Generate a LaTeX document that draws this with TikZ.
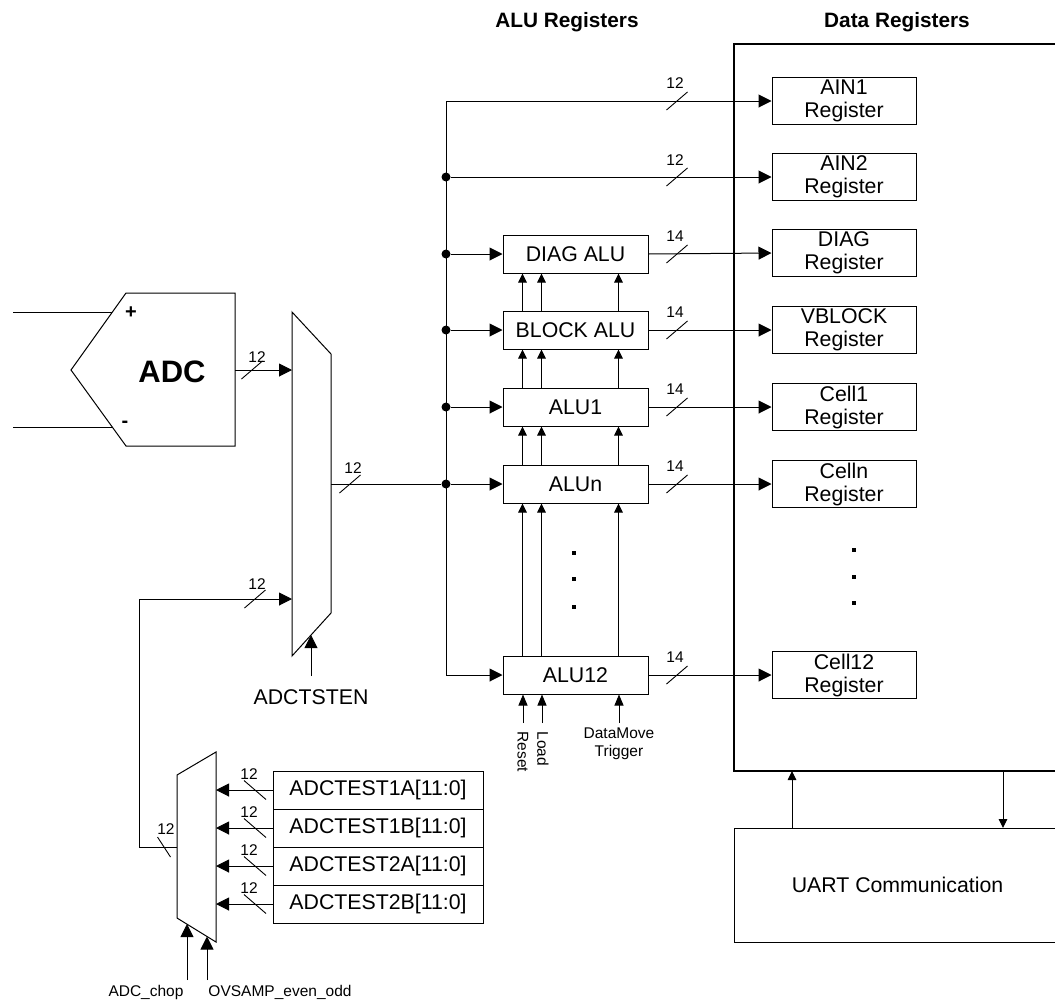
\documentclass[tikz,border=0pt]{standalone}
\usepackage{fontspec}
\setmainfont{Liberation Sans}
\usetikzlibrary{arrows.meta}
\begin{document}
\begin{tikzpicture}[x=1pt,y=-1pt,line width=1pt,
  big/.style={font=\fontsize{21.3}{23}\selectfont},
  small/.style={font=\fontsize{15.5}{18}\selectfont},
  box/.style={draw, rectangle, inner sep=0pt, big, align=center},
  alubox/.style={box, minimum width=145pt, minimum height=38pt},
  regbox/.style={box, minimum width=144pt, minimum height=47pt},
  testbox/.style={box, minimum width=210pt, minimum height=38pt},
  arr/.style={-{Triangle[length=13pt,width=13pt]}},
  marr/.style={-{Triangle[length=11pt,width=9pt]}},
  sarr/.style={-{Triangle[length=9pt,width=8.5pt]}},
  jdot/.style={circle, fill, inner sep=0pt, minimum size=9pt},
  sqdot/.style={rectangle, fill, inner sep=0pt, minimum size=4.5pt},
  bw/.style={small, inner sep=0pt},
  slashmark/.pic={\draw[line width=0.9pt] (-10.5,9) -- (10.5,-9);},
  bslashmark/.pic={\draw[line width=0.9pt] (-11,-9.5) -- (11,9.5);},
  steepmark/.pic={\draw[line width=0.9pt] (-6.5,-10) -- (6.5,10);},
]
\clip (0,0) rectangle (1055,1002);
\useasboundingbox (0,0) rectangle (1055,1002);

% titles
\node[font=\fontsize{20.8}{23}\selectfont\bfseries] (t1) at (567,22) {ALU Registers};
\node[font=\fontsize{20.8}{23}\selectfont\bfseries] (t2) at (897,22) {Data Registers};

% Data registers frame
\draw[line width=1.9pt] (1065,44) -- (734,44) -- (734,771) -- (1065,771);

% ADC
\draw (71,370) -- (126,293) -- (235,293) -- (235,446) -- (126,446) -- cycle;
\coordinate (adcout) at (235,370);
\coordinate (inp) at (13,312);
\coordinate (inpe) at (112.4,312);
\coordinate (inm) at (13,427);
\coordinate (inme) at (112,427);
\draw (inp) -- (inpe);
\draw (inm) -- (inme);
\node[font=\fontsize{31}{34}\selectfont\bfseries] (adc) at (172,372) {ADC};
\node[font=\fontsize{20}{22}\selectfont\bfseries, inner sep=0pt] (plus) at (131,313) {+};
\node[font=\fontsize{20}{22}\selectfont\bfseries, inner sep=0pt] (minus) at (125,424) {-};

% main mux
\draw (292,312) -- (331,354) -- (331,613) -- (292,656) -- cycle;
\coordinate (muxin1) at (292,370);
\coordinate (muxin2) at (292,599);
\coordinate (muxout) at (331,484);
\coordinate (muxsel) at (311,635);
\coordinate (selsrc) at (311,676);
\draw[arr] (adcout) -- (muxin1);
\pic at (252,370) {slashmark};
\node[bw] (l1) at (257,357) {12};
\draw[arr] (selsrc) -- (muxsel);
\node[big] (adctsten) at (311,697) {ADCTSTEN};

% bus
\coordinate (btop) at (446,101);
\coordinate (bbot) at (446,675);
\draw (btop) -- (bbot);
\node[jdot] (j2) at (446,177) {};
\node[jdot] (j3) at (446,254) {};
\node[jdot] (j4) at (446,330) {};
\node[jdot] (j5) at (446,407) {};
\node[jdot] (j6) at (446,484) {};
\draw (muxout) -- (j6);
\pic at (350,484) {slashmark};
\node[bw] (l2) at (353,468) {12};

% ALU boxes
\node[alubox] (diag) at (575.5,254) {DIAG ALU};
\node[alubox] (blk)  at (575.5,330) {BLOCK ALU};
\node[alubox] (alu1) at (575.5,407) {ALU1};
\node[alubox] (alun) at (575.5,484) {ALUn};
\node[alubox] (alu12) at (575.5,675) {ALU12};

% registers
\node[regbox] (ain1) at (844,101) {AIN1\\Register};
\node[regbox] (ain2) at (844,177) {AIN2\\Register};
\node[regbox] (diagr) at (844,253) {DIAG\\Register};
\node[regbox] (vblk) at (844,330) {VBLOCK\\Register};
\node[regbox] (cell1) at (844,407) {Cell1\\Register};
\node[regbox] (celln) at (844,484) {Celln\\Register};
\node[regbox] (cell12) at (844,675) {Cell12\\Register};

% bus to registers / ALUs
\draw[arr] (btop) -- (ain1.west);
\draw[arr] (j2) -- (ain2.west);
\draw[arr] (j3) -- (diag.west);
\draw[arr] (j4) -- (blk.west);
\draw[arr] (j5) -- (alu1.west);
\draw[arr] (j6) -- (alun.west);
\draw[arr] (bbot) -- (alu12.west);

% ALU outputs
\draw[arr] (diag.east) -- (diagr.west);
\draw[arr] (blk.east) -- (vblk.west);
\draw[arr] (alu1.east) -- (cell1.west);
\draw[arr] (alun.east) -- (celln.west);
\draw[arr] (alu12.east) -- (cell12.west);

\pic at (677,101) {slashmark}; \node[bw] (w1) at (675,83) {12};
\pic at (677,177) {slashmark}; \node[bw] (w2) at (675,160) {12};
\pic at (677,254) {slashmark}; \node[bw] (w3) at (675,236) {14};
\pic at (677,330) {slashmark}; \node[bw] (w4) at (675,312) {14};
\pic at (677,407) {slashmark}; \node[bw] (w5) at (675,389) {14};
\pic at (677,484) {slashmark}; \node[bw] (w6) at (675,466) {14};
\pic at (677,675) {slashmark}; \node[bw] (w7) at (675,657) {14};

% vertical ALU arrows
\foreach \dx in {20,39,116} {
  \draw[sarr] ([xshift=\dx pt]blk.north west) -- ([xshift=\dx pt]diag.south west);
  \draw[sarr] ([xshift=\dx pt]alu1.north west) -- ([xshift=\dx pt]blk.south west);
  \draw[sarr] ([xshift=\dx pt]alun.north west) -- ([xshift=\dx pt]alu1.south west);
  \draw[sarr] ([xshift=\dx pt]alu12.north west) -- ([xshift=\dx pt]alun.south west);
}
\coordinate (rst) at (523,723);
\coordinate (lod) at (542,723);
\coordinate (dmt) at (619,723);
\draw[marr] (rst) -- (rst |- alu12.south);
\draw[marr] (lod) -- (lod |- alu12.south);
\draw[marr] (dmt) -- (dmt |- alu12.south);
\node[bw, rotate=-90, anchor=west] (reset) at (523,731) {Reset};
\node[bw, rotate=-90, anchor=west] (load) at (543,731) {Load};
\node[bw, align=center, font=\fontsize{15.5}{18.5}\selectfont] (dm) at (619,744) {DataMove\\Trigger};

% dots
\node[sqdot] (d1) at (574,553) {};
\node[sqdot] (d2) at (574,579) {};
\node[sqdot] (d3) at (574,607) {};
\node[sqdot] (e1) at (854,550) {};
\node[sqdot] (e2) at (854,577) {};
\node[sqdot] (e3) at (854,603) {};

% UART
\draw (1065,828) -- (734,828) -- (734,942) -- (1065,942);
\node[big] (uart) at (897.5,885) {UART Communication};
\coordinate (u1a) at (792,828);
\coordinate (u1b) at (792,771);
\coordinate (u2a) at (1003,771);
\coordinate (u2b) at (1003,828);
\draw[sarr] (u1a) -- (u1b);
\draw[sarr] (u2a) -- (u2b);

% bottom mux
\draw (177,775) -- (216,752) -- (216,942) -- (177,918) -- cycle;
\node[testbox] (ta) at (378,790) {ADCTEST1A[11:0]};
\node[testbox] (tb) at (378,828) {ADCTEST1B[11:0]};
\node[testbox] (tc) at (378,866) {ADCTEST2A[11:0]};
\node[testbox] (td) at (378,904) {ADCTEST2B[11:0]};
\foreach \n/\yy in {ta/790,tb/828,tc/866,td/904} {
  \draw[arr] (\n.west) -- (216,\yy);
  \pic at (255,\yy) {bslashmark};
  \node[bw] at (249,\yy-16) {12};
}
\coordinate (bmo) at (177,847);
\coordinate (c1) at (139,847);
\coordinate (c2) at (139,599);
\draw[arr] (bmo) -- (c1) -- (c2) -- (muxin2);
\pic at (164,847) {steepmark};
\node[bw] (l3) at (166,829) {12};
\pic at (255,599) {slashmark};
\node[bw] (l4) at (257,584) {12};

\coordinate (chs) at (187,980);
\coordinate (che) at (187,924);
\coordinate (ovs) at (207,980);
\coordinate (ove) at (207,936.5);
\draw[arr] (chs) -- (che);
\draw[arr] (ovs) -- (ove);
\node[bw] (chop) at (146,992) {ADC\_chop};
\node[bw] (ovsamp) at (280,992) {OVSAMP\_even\_odd};
\end{tikzpicture}
\end{document}
